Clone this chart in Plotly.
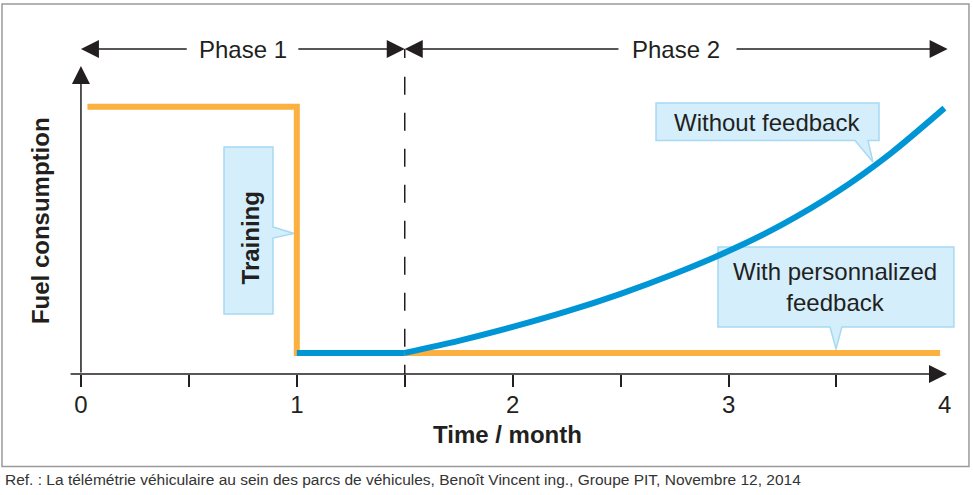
import plotly.graph_objects as go

# data (time in months, fuel consumption in arbitrary units)
orange_t = [0.03, 1.0, 1.0, 3.98]
orange_y = [100, 100, 7.9, 7.9]

blue_t = [1.0, 1.5, 1.75, 2.0, 2.25, 2.5, 2.75, 3.0, 3.25, 3.5, 3.75, 4.0]
blue_y = [7.9, 7.9, 12.4, 17.6, 23.4, 30.0, 37.5, 46.0, 56.0, 68.0, 82.5, 99.5]

tick_vals = [0, 0.5, 1, 1.5, 2, 2.5, 3, 3.5]
tick_text = ["0", "", "1", "", "2", "", "3", ""]

INK = "#231f20"
ORANGE = "#fbb040"
BLUE = "#0096d6"
BUBBLE = "#d4eefc"
BUBBLE_LINE = "#a6d9f2"
FONT = "Arial, Liberation Sans, sans-serif"

fig = go.Figure()

fig.add_trace(go.Scatter(x=orange_t, y=orange_y, mode="lines",
                         line=dict(color=ORANGE, width=6), hoverinfo="skip"))
# flat part then the rising curve
fig.add_trace(go.Scatter(x=blue_t[:2], y=blue_y[:2], mode="lines",
                         line=dict(color=BLUE, width=6), hoverinfo="skip"))
fig.add_trace(go.Scatter(x=blue_t[1:], y=blue_y[1:], mode="lines",
                         line=dict(color=BLUE, width=6, shape="spline", smoothing=0.8),
                         hoverinfo="skip"))


def arrow(x, y, ax, ay):
    return dict(x=x, y=y, ax=ax, ay=ay, xref="x", yref="y", axref="x", ayref="y",
                text="", showarrow=True, arrowhead=2, arrowsize=2.4, arrowwidth=1.5,
                arrowcolor=INK)


def label(x, y, text, size=24, bold=False, angle=0, xref="x", yref="y", **kw):
    if bold:
        text = "<b>" + text + "</b>"
    return dict(x=x, y=y, xref=xref, yref=yref, text=text, showarrow=False,
                xanchor="center", yanchor="middle", textangle=angle,
                font=dict(family=FONT, size=size, color=INK), **kw)


annotations = [
    # axes
    arrow(4.012, 0, -0.055, 0),
    arrow(0, 115.3, 0, 0),
    # phase arrows
    arrow(0, 121.6, 0.497, 121.6),
    arrow(1.5, 121.6, 1.0, 121.6),
    arrow(1.5, 121.6, 2.497, 121.6),
    arrow(4.015, 121.6, 3.03, 121.6),
    label(0.75, 121.6, "Phase 1"),
    label(2.756, 121.6, "Phase 2"),
    # axis titles and last tick label (below the plot area -> paper y)
    label(4, -0.0928, "4", yref="paper"),
    label(1.976, -0.1826, "Time / month", bold=True, yref="paper"),
    label(-0.0312, 57.6, "Fuel consumption", bold=True, angle=-90, xref="paper"),
    # callout texts
    label(0.783, 51.1, "Training", bold=True, angle=-90),
    label(3.178, 94.3, "Without feedback"),
    label(3.491, 32.6, "With personnalized<br>feedback"),
    # source
    dict(x=-0.0724, y=-0.317, xref="paper", yref="paper", xanchor="left",
         yanchor="middle",
         text="Ref. : La télémétrie véhiculaire au sein des parcs de véhicules, "
              "Benoît Vincent ing., Groupe PIT, Novembre 12, 2014",
         showarrow=False, font=dict(family=FONT, size=15.5, color="#333333")),
]

shapes = [
    # outer frame
    dict(type="rect", xref="paper", yref="paper", x0=-0.0735, x1=1.0033,
         y0=-0.277, y1=1.1078, line=dict(color="#9a9a9a", width=1.5), layer="below"),
    # phase boundary
    dict(type="line", xref="x", yref="y", x0=1.5, x1=1.5, y0=111.2, y1=0,
         line=dict(color=INK, width=1.5, dash="18px,18px"), layer="below"),
    dict(type="line", xref="x", yref="y", x0=1.5, x1=1.5, y0=121.6, y1=118.3,
         line=dict(color=INK, width=1.5), layer="below"),
    # callout bubbles
    dict(type="path", xref="x", yref="y", layer="below",
         path="M0.6627,84.95 L0.8896,84.95 L0.8896,55.0 L0.9869,52.6 L0.8896,50.9 "
              "L0.8896,22.45 L0.6627,22.45 Z",
         fillcolor=BUBBLE, line=dict(color=BUBBLE_LINE, width=1.5)),
    dict(type="path", xref="x", yref="y", layer="below",
         path="M2.664,101.4 L3.697,101.4 L3.697,87.4 L3.646,87.4 L3.669,79.3 "
              "L3.586,87.4 L2.664,87.4 Z",
         fillcolor=BUBBLE, line=dict(color=BUBBLE_LINE, width=1.5)),
    dict(type="path", xref="x", yref="y", layer="below",
         path="M2.951,47.5 L4.044,47.5 L4.044,17.6 L3.525,17.6 L3.498,9.4 "
              "L3.470,17.6 L2.951,17.6 Z",
         fillcolor=BUBBLE, line=dict(color=BUBBLE_LINE, width=1.5)),
]

fig.update_layout(
    width=973, height=495,
    margin=dict(l=68, r=7, t=40, b=121),
    paper_bgcolor="white", plot_bgcolor="white",
    showlegend=False,
    font=dict(family=FONT, color=INK),
    annotations=annotations,
    shapes=shapes,
    xaxis=dict(range=[-0.06, 4.1], showgrid=False, zeroline=False, showline=False,
               tickmode="array", tickvals=tick_vals, ticktext=tick_text,
               ticks="outside", ticklen=12, tickwidth=1.5, tickcolor=INK,
               ticklabelstandoff=-3,
               tickfont=dict(family=FONT, size=24, color=INK)),
    yaxis=dict(range=[0, 125], visible=False),
)

# page body has a default 8px margin; drop it so the figure fills the window
fig.write_html("out.html", config={"displayModeBar": False},
               post_script="document.body.style.margin='0';")
